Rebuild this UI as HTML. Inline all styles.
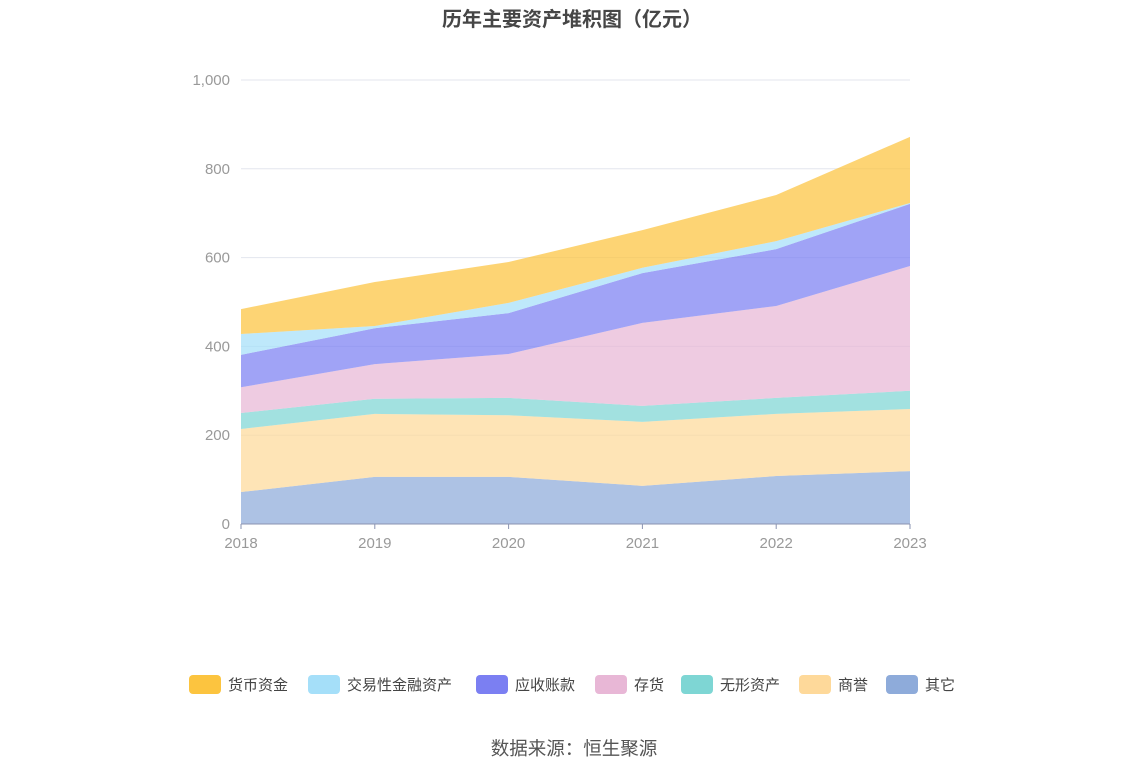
<!DOCTYPE html>
<html><head><meta charset="utf-8"><style>
body{margin:0;background:#fff;font-family:"Liberation Sans","Noto Sans CJK SC",sans-serif;}
svg text{font-family:"Liberation Sans","Noto Sans CJK SC",sans-serif;}
</style></head><body>
<svg id="c" width="1148" height="776">
<text x="572" y="26" text-anchor="middle" font-size="20" font-weight="bold" fill="#464646">历年主要资产堆积图（亿元）</text>
<g id="grid"></g><g id="areas"></g><g id="axes"></g><g id="legend"></g>
<text x="574" y="755" text-anchor="middle" font-size="18.5" fill="#555">数据来源：恒生聚源</text>
</svg>
<script>
const years=["2018","2019","2020","2021","2022","2023"];
const names=["其它","商誉","无形资产","存货","应收账款","交易性金融资产","货币资金"];
const colors=["#8eabda","#fed99a","#7ed6d4","#e8b7d6","#7b7ff2","#a5dff9","#fcc43f"];
const other=[72,106,106,86,108,119];
const goodwill=[142,142,139,144,140,140];
const intangible=[36,34,39,36,36,41];
const inventory=[58,78,99,187,207,281];
const receivable=[73,81,92,112,128,140];
const tradingFin=[47,5,23,12,18,2];
const cash=[56,99,92,85,104,149];
const yTicks=[0,200,400,600,800,1000];
const series=[other,goodwill,intangible,inventory,receivable,tradingFin,cash];
const NS="http://www.w3.org/2000/svg";
const x0=241,x1=910,y0=524,y1=80;
const X=i=>x0+(x1-x0)*i/(years.length-1);
const Y=v=>y0-(y0-y1)*v/1000;
function mk(t,a,p){const e=document.createElementNS(NS,t);for(const k in a)e.setAttribute(k,a[k]);p.appendChild(e);return e;}
const grid=document.getElementById('grid'),axes=document.getElementById('axes'),areas=document.getElementById('areas'),leg=document.getElementById('legend');
yTicks.forEach(v=>{
 const l=mk('line',{x1:x0,x2:x1,y1:Y(v),y2:Y(v),stroke:'#e3e6ee'},grid);
 
 
 const t=mk('text',{x:230,y:Y(v)+5,'text-anchor':'end','font-size':15,fill:'#999'},axes);
 t.textContent=v.toLocaleString('en-US');
 
 
});
let base=years.map(()=>0);
series.forEach((s,k)=>{
 const top=base.map((b,i)=>b+s[i]);
 let d='M'+years.map((_,i)=>X(i)+','+Y(top[i])).join('L');
 for(let i=years.length-1;i>=0;i--)d+='L'+X(i)+','+Y(base[i]);
 const p=mk('path',{d:d+'Z',fill:colors[k],'fill-opacity':0.72},areas);
 
 
 base=top;
});
const ax=mk('line',{x1:x0,x2:x1,y1:y0,y2:y0,stroke:'#8a93b0'},axes);


years.forEach((y,i)=>{
 const tk=mk('line',{x1:X(i),x2:X(i),y1:y0,y2:y0+5,stroke:'#8a93b0'},axes);
 
 
 const t=mk('text',{x:X(i),y:548,'text-anchor':'middle','font-size':15,fill:'#999'},axes);
 t.textContent=y;
 
 
});
const order=[6,5,4,3,2,1,0];
const lx=[189,308,476,595,681,799,886];
order.forEach((k,j)=>{
 const g=mk('g',{},leg);
 
 
 mk('rect',{x:lx[j],y:675,width:32,height:19,rx:4,fill:colors[k]},g);
 const t=mk('text',{x:lx[j]+39,y:690,'font-size':15,fill:'#444'},g);
 t.textContent=names[k];
});
</script>
</body></html>
